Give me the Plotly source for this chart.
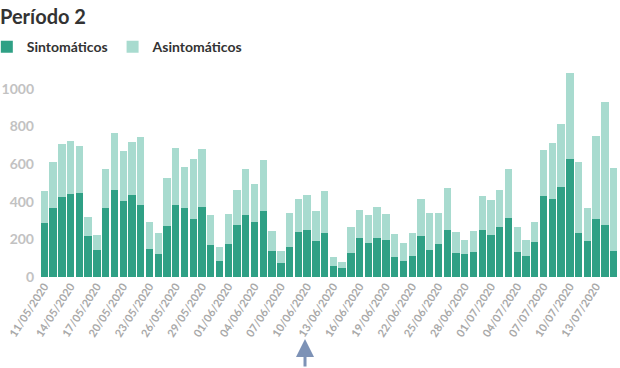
import pandas as pd
import plotly.graph_objects as go

# Daily dates 11/05/2020 .. 15/07/2020
dates = pd.date_range("2020-05-11", "2020-07-15", freq="D").strftime("%d/%m/%Y").tolist()

# Totals (Sintomáticos + Asintomáticos)
totales = [459, 612, 707, 725, 695, 317, 225, 574, 766, 670, 718, 745, 291, 234, 525, 688, 587, 629, 681, 330,
           161, 333, 461, 574, 493, 624, 243, 138, 340, 413, 434, 351, 459, 105, 82, 266, 356, 330, 372, 335,
           229, 179, 232, 413, 340, 340, 473, 239, 197, 246, 433, 408, 463, 574, 266, 195, 294, 676, 714, 812,
           1083, 610, 367, 748, 931, 580]
sintomaticos = [286, 365, 424, 441, 445, 220, 142, 365, 461, 406, 438, 381, 147, 122, 271, 385, 367, 310, 374, 170,
                85, 177, 278, 332, 291, 351, 137, 74, 161, 241, 250, 191, 232, 60, 46, 129, 209, 179, 206, 195,
                106, 83, 112, 220, 144, 178, 250, 128, 121, 131, 250, 222, 268, 312, 133, 113, 184, 431, 413, 480,
                629, 232, 190, 310, 275, 140]
asintomaticos = [t - s for t, s in zip(totales, sintomaticos)]

tick_labels = dates[::3]

fig = go.Figure()
fig.add_trace(go.Bar(x=dates, y=sintomaticos, name="Sintomáticos", marker_color="#2fa085",
                     marker_line_width=0))
fig.add_trace(go.Bar(x=dates, y=asintomaticos, name="Asintomáticos", marker_color="#a8dbcf",
                     marker_line_width=0))

fig.update_layout(
    width=620, height=368,
    barmode="stack", bargap=0.16,
    margin=dict(l=40, r=2, t=70, b=91, autoexpand=False),
    plot_bgcolor="white", paper_bgcolor="white",
    font=dict(family="Lato"),
    title=dict(text="Período 2", x=0.0, xref="container", xanchor="left", y=0.955, yanchor="middle",
               font=dict(family="Lato", size=20, color="#333333", weight="bold")),
    legend=dict(orientation="h", traceorder="normal", x=-0.092, xanchor="left", y=1.11, yanchor="middle",
                font=dict(family="Lato", size=14, color="#333333", weight="bold"),
                itemwidth=30, tracegroupgap=0, bgcolor="rgba(0,0,0,0)"),
    showlegend=True,
)
fig.update_xaxes(type="category", tickmode="array", tickvals=tick_labels, ticktext=tick_labels,
                 tickangle=-57, showgrid=False, showline=False, ticks="", automargin=False,
                 tickfont=dict(family="Lato", size=11, color="#a9a9a9", weight="bold"),
                 range=[-0.5, len(dates) - 0.5])
fig.update_yaxes(range=[0, 1100], tickvals=[0, 200, 400, 600, 800, 1000], showgrid=False,
                 zeroline=False, showline=False, ticks="", automargin=False, ticklabelstandoff=5,
                 tickfont=dict(family="Lato", size=14, color="#c2c2c2", weight="bold"))

fig.add_annotation(x=0.4585, xref="paper", y=-0.30, yref="paper", text="", showarrow=True,
                   ax=0, ay=30, arrowhead=2, arrowsize=1.2, arrowwidth=3, arrowcolor="#7d92b6")

fig.write_html("out.html", config={"displayModeBar": False},
               post_script="document.body.style.margin='0px';document.body.style.overflow='hidden';")
